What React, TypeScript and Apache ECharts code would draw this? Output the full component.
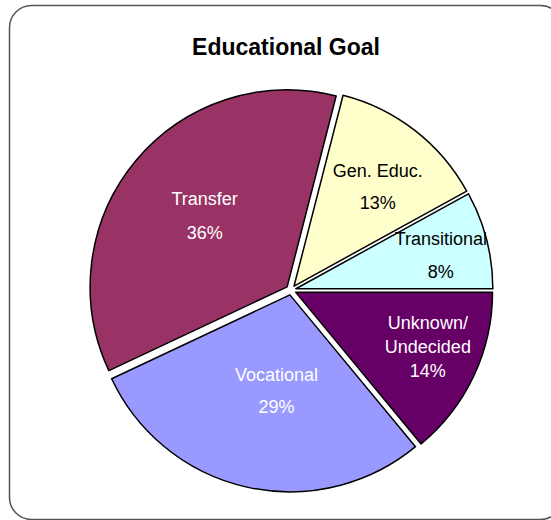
import React, { useEffect, useRef } from "react";
import * as echarts from "echarts";

const TITLE = "Educational Goal";
const categories = ["Transitional", "Gen. Educ.", "Transfer", "Vocational", "Unknown/\nUndecided"];
const values = [8, 13, 36, 29, 14];
const colors = ["#CCFFFF", "#FFFFCC", "#993366", "#9999FF", "#660066"];
const labelColors = ["#000000", "#000000", "#FFFFFF", "#FFFFFF", "#FFFFFF"];
const labelRadiusFrac = [0.76, 0.66, 0.55, 0.5, 0.72];
const labelNudge = [[0, 4], [4, 4], [1, -2], [8, 0], [4, -6]];
const labelLineHeights = [33, 32, 34, 32, 24];

export default function App() {
  const ref = useRef<HTMLDivElement>(null);
  useEffect(() => {
    if (!ref.current) return;
    const chart = echarts.init(ref.current, null, { renderer: "svg" });
    const cx = 291;
    const cy = 290;
    const R = 197;
    const explode = 5;
    const total = values.reduce((a, b) => a + b, 0);
    const mids: number[] = [];
    let acc = 0;
    values.forEach((v) => {
      const a0 = (acc / total) * 360;
      acc += v;
      const a1 = (acc / total) * 360;
      mids.push(((a0 + a1) / 2) * Math.PI / 180);
    });
    const font = "Liberation Sans, Arial";
    chart.setOption({
      animation: false,
      title: {
        text: TITLE,
        left: 281,
        top: 30,
        textAlign: "center",
        textStyle: { fontFamily: font, fontSize: 23, fontWeight: "bold", color: "#000" },
      },
      graphic: [
        {
          type: "rect",
          shape: { x: 9.5, y: 5.5, width: 553, height: 514, r: 22 },
          style: { fill: "none", stroke: "#555555", lineWidth: 1.5 },
          silent: true,
        },
      ],
      series: [
        {
          type: "pie",
          center: [cx, cy],
          radius: [0, R],
          startAngle: 0,
          clockwise: false,
          selectedMode: "multiple",
          selectedOffset: explode,
          emphasis: { disabled: true },
          itemStyle: { borderColor: "#000", borderWidth: 1.5 },
          select: { itemStyle: { borderColor: "#000", borderWidth: 1.5 } },
          label: { show: false },
          labelLine: { show: false },
          data: categories.map((name, i) => ({
            name,
            value: values[i],
            selected: true,
            itemStyle: { color: colors[i] },
            select: { itemStyle: { color: colors[i] } },
          })),
        },
        {
          type: "pie",
          center: [cx, cy],
          radius: [0, R],
          startAngle: 0,
          clockwise: false,
          silent: true,
          emphasis: { disabled: true },
          itemStyle: { color: "rgba(0,0,0,0)", borderWidth: 0 },
          label: {
            show: true,
            position: "inside",
            fontFamily: font,
            fontSize: 18,
            formatter: (p: any) => `${p.name}\n${p.value}%`,
          },
          labelLine: { show: false },
          labelLayout: (p: any) => {
            const i = p.dataIndex;
            const m = mids[i];
            const r = labelRadiusFrac[i] * R + explode;
            return {
              x: cx + Math.cos(m) * r + labelNudge[i][0],
              y: cy - Math.sin(m) * r + labelNudge[i][1],
              align: "center",
              verticalAlign: "middle",
            };
          },
          data: categories.map((name, i) => ({
            name,
            value: values[i],
            label: { color: labelColors[i], lineHeight: labelLineHeights[i] },
          })),
        },
      ],
    });
    return () => chart.dispose();
  }, []);
  return (
    <div
      ref={ref}
      style={{ position: "fixed", left: 0, top: 0, width: 551, height: 520, background: "#fff" }}
    />
  );
}
